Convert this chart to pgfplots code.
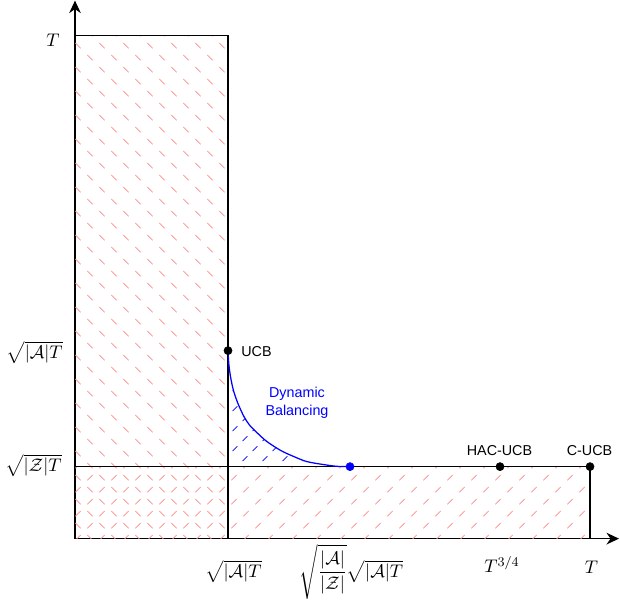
\documentclass[border=0pt]{standalone}
\usepackage{pgfplots}
\pgfplotsset{compat=1.18}
\usepackage{amsmath}
\usepackage{fontspec}
\setsansfont{Liberation Sans}
\usetikzlibrary{patterns,arrows.meta}

% pink "\" dashes: lattice (24px,0),(12px,12px); 1px = 0.6pt
\pgfdeclarepatternformonly{dashNW}{\pgfpoint{-1pt}{-1pt}}{\pgfpoint{15.4pt}{15.4pt}}{\pgfpoint{14.4pt}{14.4pt}}{%
  \pgfsetlinewidth{0.5pt}%
  \pgfpathmoveto{\pgfpoint{2.0pt}{5.2pt}}\pgfpathlineto{\pgfpoint{5.2pt}{2.0pt}}%
  \pgfpathmoveto{\pgfpoint{9.2pt}{12.4pt}}\pgfpathlineto{\pgfpoint{12.4pt}{9.2pt}}%
  \pgfusepath{stroke}}
% pink "/" dashes, offset so they interleave with the "\" ones
\pgfdeclarepatternformonly{dashNE}{\pgfpoint{-1pt}{-1pt}}{\pgfpoint{15.4pt}{15.4pt}}{\pgfpoint{14.4pt}{14.4pt}}{%
  \pgfsetlinewidth{0.5pt}%
  \pgfpathmoveto{\pgfpoint{2.0pt}{9.2pt}}\pgfpathlineto{\pgfpoint{5.2pt}{12.4pt}}%
  \pgfpathmoveto{\pgfpoint{9.2pt}{2.0pt}}\pgfpathlineto{\pgfpoint{12.4pt}{5.2pt}}%
  \pgfusepath{stroke}}
% blue "/" dashes: lattice (20px,0),(10px,10px)
\pgfdeclarepatternformonly{dashNEsmall}{\pgfpoint{-1pt}{-1pt}}{\pgfpoint{13pt}{13pt}}{\pgfpoint{12pt}{12pt}}{%
  \pgfsetlinewidth{0.5pt}%
  \pgfpathmoveto{\pgfpoint{1.6pt}{1.6pt}}\pgfpathlineto{\pgfpoint{4.4pt}{4.4pt}}%
  \pgfpathmoveto{\pgfpoint{7.6pt}{7.6pt}}\pgfpathlineto{\pgfpoint{10.4pt}{10.4pt}}%
  \pgfusepath{stroke}}

\pgfplotstableread{
x y
153 188
153.8 175
155.5 162
158.5 148
163 135
169 122
175 113
183 105
192 97
206 88
219 82
232 77
249 74
262 72.3
275 72
}\curvedata

\newcommand{\mlab}{\fontsize{10.8}{13}\selectfont}

\begin{document}
\begin{tikzpicture}
\begin{axis}[
  x=0.6pt, y=0.6pt,
  xmin=0, xmax=544, ymin=0, ymax=538,
  axis lines=left,
  axis line style={line width=0.75pt, -{Stealth[length=7.5pt,width=7pt]}},
  xtick=\empty, ytick=\empty,
  clip=false,
]
% hatched regions
\addplot[draw=none, pattern=dashNW, pattern color=red!45] coordinates {(0,0)(153,0)(153,503)(0,503)} -- cycle;
\addplot[draw=none, pattern=dashNE, pattern color=red!45] coordinates {(0,0)(515,0)(515,72)(0,72)} -- cycle;
\addplot[draw=none, pattern=dashNEsmall, pattern color=blue] table {\curvedata} -- (axis cs:153,72) -- cycle;
% outlines
\addplot[black, line width=0.75pt] coordinates {(0,503)(153,503)(153,0)};
\addplot[black, line width=0.75pt] coordinates {(0,72)(515,72)(515,0)};
% curve
\addplot[blue, line width=0.75pt, smooth] table {\curvedata};
% points
\addplot[only marks, mark=*, mark size=2.4pt, black] coordinates {(153,188)(425,72)(515,72)};
\addplot[only marks, mark=*, mark size=2.4pt, blue] coordinates {(275,72)};
% y labels
\node[anchor=east, inner sep=0pt, font=\mlab] at (axis cs:-15,498) {$T$};
\node[anchor=east, inner sep=0pt, font=\mlab] at (axis cs:-12,186) {$\sqrt{|\mathcal{A}|T}$};
\node[anchor=east, inner sep=0pt, font=\mlab] at (axis cs:-13,73) {$\sqrt{|\mathcal{Z}|T}$};
% x labels
\node[inner sep=0pt, font=\mlab] at (axis cs:158.5,-33) {$\sqrt{|\mathcal{A}|T}$};
\node[inner sep=0pt, font=\mlab] at (axis cs:276.5,-33) {$\sqrt{\dfrac{|\mathcal{A}|}{|\mathcal{Z}|}}\sqrt{|\mathcal{A}|T}$};
\node[anchor=base, inner sep=0pt, font=\mlab] at (axis cs:427,-34) {$T^{3/4}$};
\node[anchor=base, inner sep=0pt, font=\mlab] at (axis cs:516.5,-34.5) {$T$};
% point labels
\node[anchor=west, inner sep=0pt, font=\sffamily\fontsize{8.6}{10}\selectfont] at (axis cs:166,187) {UCB};
\node[anchor=base, inner sep=0pt, font=\sffamily\fontsize{8.6}{10}\selectfont] at (axis cs:424.5,83) {HAC-UCB};
\node[anchor=base, inner sep=0pt, font=\sffamily\fontsize{8.6}{10}\selectfont] at (axis cs:514.5,83) {C-UCB};
\node[align=center, inner sep=0pt, text=blue, font=\sffamily\fontsize{8.6}{10.8}\selectfont] at (axis cs:222,136) {Dynamic\\Balancing};
% bounding helper
\path (axis cs:-75,-65) (axis cs:545,538);
\end{axis}
\end{tikzpicture}
\end{document}
